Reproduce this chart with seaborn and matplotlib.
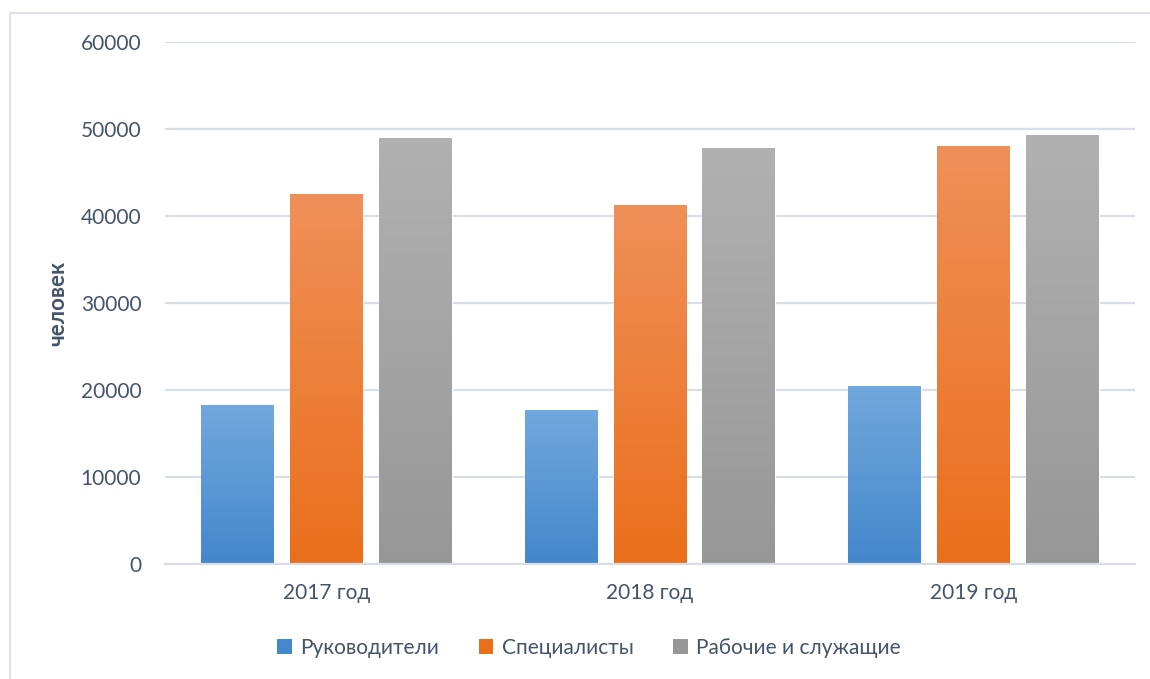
import numpy as np
import pandas as pd
import matplotlib
matplotlib.use("Agg")
import matplotlib.pyplot as plt
import seaborn as sns
from matplotlib.colors import LinearSegmentedColormap
from matplotlib.patches import Patch
from matplotlib.lines import Line2D

# ---- data ----
years = ["2017 год", "2018 год", "2019 год"]
series = ["Руководители", "Специалисты", "Рабочие и служащие"]
managers = [18300, 17700, 20500]
specialists = [42500, 41300, 48000]
workers = [49000, 47800, 49300]
yticks = [0, 10000, 20000, 30000, 40000, 50000, 60000]
ylabel = "человек"

# gradient colours (top, bottom)
grad = {
    "Руководители": ("#72A8DD", "#4387CC"),
    "Специалисты": ("#F09059", "#EA6F1B"),
    "Рабочие и служащие": ("#B1B1B1", "#979797"),
}
solid = {k: v[1] for k, v in grad.items()}

df = pd.DataFrame({
    "year": years * 3,
    "series": [series[0]] * 3 + [series[1]] * 3 + [series[2]] * 3,
    "value": managers + specialists + workers,
})

sns.set_theme(style="white")
plt.rcParams["font.family"] = ["Lato", "DejaVu Sans"]
text_color = "#44546A"
grid_color = "#D9DEE6"

fig = plt.figure(figsize=(11.5, 6.79), dpi=100)
ax = fig.add_axes([165 / 1150, 1 - 564 / 679, (1135 - 165) / 1150, (564 - 42) / 679])

sns.barplot(data=df, x="year", y="value", hue="series", hue_order=series,
            order=years, palette=solid, width=0.825, gap=0.18, ax=ax,
            legend=False, saturation=1, errorbar=None)

# gradient fill
for name, cont in zip(series, ax.containers):
    cmap = LinearSegmentedColormap.from_list(name, [grad[name][1], grad[name][0]])
    for bar in cont:
        x, y = bar.get_x(), bar.get_y()
        w, h = bar.get_width(), bar.get_height()
        g = np.linspace(0, 1, 256).reshape(-1, 1)
        im = ax.imshow(g, cmap=cmap, aspect="auto", origin="lower",
                       extent=[x, x + w, y, y + h], zorder=bar.get_zorder() + 0.1)
        im.set_clip_path(bar)

ax.set_xlim(-0.5, 2.5)
ax.set_ylim(0, 60000)
ax.set_yticks(yticks)
ax.set_yticklabels([str(v) for v in yticks])
ax.set_axisbelow(True)
ax.yaxis.grid(True, color=grid_color, linewidth=1.6)
ax.xaxis.grid(False)
for s in ["left", "right", "top"]:
    ax.spines[s].set_visible(False)
ax.spines["bottom"].set_color(grid_color)
ax.spines["bottom"].set_linewidth(1.6)
ax.tick_params(axis="y", length=0, pad=17, labelsize=15, labelcolor=text_color)
ax.tick_params(axis="x", length=0, pad=14, labelsize=15, labelcolor=text_color)
ax.set_xlabel("")
ax.set_ylabel(ylabel, fontsize=16, fontweight="bold", color=text_color, labelpad=9)

handles = [Patch(facecolor=solid[s], edgecolor="none") for s in series]
fig.legend(handles, series, loc="center", bbox_to_anchor=(589 / 1150, 1 - 648 / 679),
           ncol=3, frameon=False, fontsize=15, labelcolor=text_color,
           handlelength=0.7, handleheight=0.7, handletextpad=0.4, columnspacing=1.9)

# chart frame
fig.add_artist(Line2D([10 / 1150, 10 / 1150], [0, 1 - 13 / 679], transform=fig.transFigure,
                      color="#DCE0E8", linewidth=1.5))
fig.add_artist(Line2D([10 / 1150, 1], [1 - 13 / 679, 1 - 13 / 679], transform=fig.transFigure,
                      color="#DCE0E8", linewidth=1.5))

fig.savefig("out.png", dpi=100)
